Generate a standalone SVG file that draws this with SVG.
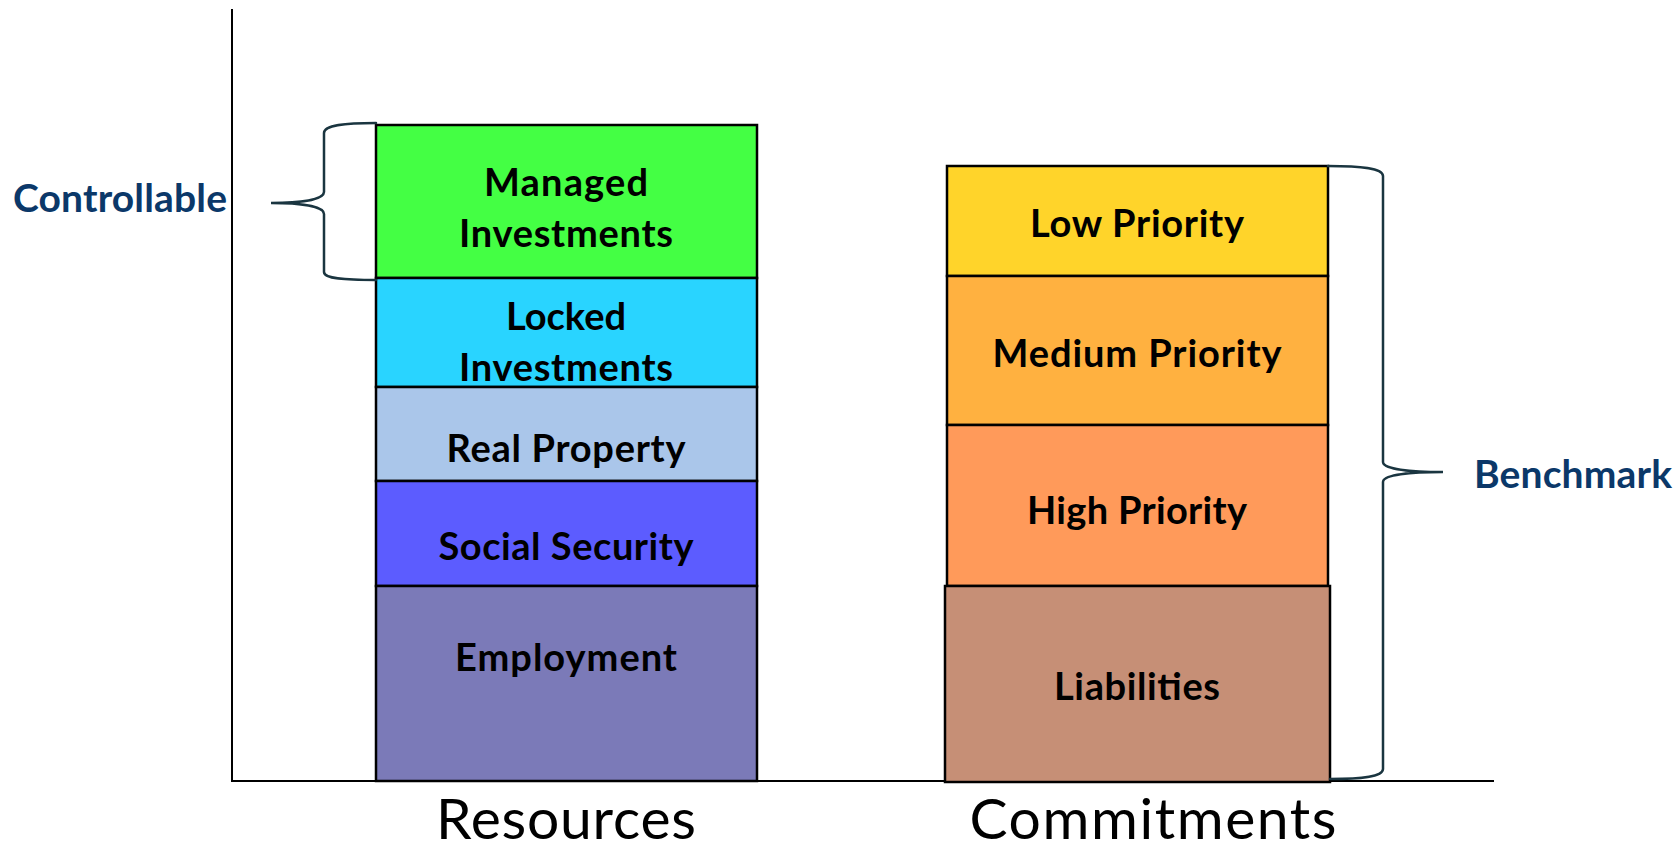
<svg xmlns="http://www.w3.org/2000/svg" width="1677" height="853" viewBox="0 0 1677 853">
  <style>
    .seg { stroke: #000; stroke-width: 2.5; }
    .lbl { font-family: Lato, "Liberation Sans", sans-serif; font-weight: bold; font-size: 38px; fill: #000; text-anchor: middle; }
    .side { font-family: Lato, "Liberation Sans", sans-serif; font-weight: bold; font-size: 39px; fill: #0B3869; }
    .axislbl { font-family: Lato, "Liberation Sans", sans-serif; font-size: 57px; fill: #000; text-anchor: middle; }
    .brace { fill: none; stroke: #1A3540; stroke-width: 2.5; stroke-linecap: round; }
    .axis { stroke: #000; stroke-width: 2; }
  </style>
  <rect width="1677" height="853" fill="#fff"/>

  <!-- axes -->
  <g id="axes">
    <line class="axis" x1="232" y1="9" x2="232" y2="782"/>
    <line class="axis" x1="232" y1="781" x2="1494" y2="781"/>
  </g>

  <!-- resources stack -->
  <g id="managed-investments">
    <rect class="seg" x="376" y="125" width="381" height="153" fill="#44FF44"/>
    <text class="lbl" x="566" y="196" textLength="164">Managed</text>
    <text class="lbl" x="566" y="247" textLength="214">Investments</text>
  </g>
  <g id="locked-investments">
    <rect class="seg" x="376" y="278" width="381" height="109" fill="#29D4FF"/>
    <text class="lbl" x="566" y="330" textLength="120">Locked</text>
    <text class="lbl" x="566" y="381" textLength="214">Investments</text>
  </g>
  <g id="real-property">
    <rect class="seg" x="376" y="387" width="381" height="94" fill="#AAC6EA"/>
    <text class="lbl" x="566" y="462" textLength="239">Real Property</text>
  </g>
  <g id="social-security">
    <rect class="seg" x="376" y="481" width="381" height="105" fill="#5C5CFF"/>
    <text class="lbl" x="566" y="560" textLength="255">Social Security</text>
  </g>
  <g id="employment">
    <rect class="seg" x="376" y="586" width="381" height="195" fill="#7B7AB8"/>
    <text class="lbl" x="566" y="671" textLength="222">Employment</text>
  </g>

  <!-- commitments stack -->
  <g id="low-priority">
    <rect class="seg" x="947" y="166" width="381" height="110" fill="#FFD42A"/>
    <text class="lbl" x="1137" y="237" textLength="214">Low Priority</text>
  </g>
  <g id="medium-priority">
    <rect class="seg" x="947" y="276" width="381" height="149" fill="#FFB140"/>
    <text class="lbl" x="1137" y="367" textLength="289">Medium Priority</text>
  </g>
  <g id="high-priority">
    <rect class="seg" x="947" y="425" width="381" height="161" fill="#FF9A5A"/>
    <text class="lbl" x="1137" y="524" textLength="220">High Priority</text>
  </g>
  <g id="liabilities">
    <rect class="seg" x="945" y="586" width="385" height="196" fill="#C68F76"/>
    <text class="lbl" x="1137" y="700" textLength="166">Liabilities</text>
  </g>

  <!-- braces -->
  <g id="connectors">
    <path class="brace" d="M376,123 C345,123 324,125 324,133 L324,192 C324,200 300,203 271,203 C300,203 324,206 324,214 L324,272 C324,279 345,280 376,280"/>
    <path class="brace" d="M1328,166 C1360,166 1383,168 1383,176 L1383,462 C1383,469 1410,472 1443,472 C1410,472 1383,475 1383,482 L1383,769 C1383,777 1360,779 1330,779"/>
  </g>

  <!-- side labels -->
  <g id="controllable">
    <text class="side" x="13" y="212" textLength="214">Controllable</text>
  </g>
  <g id="benchmark">
    <text class="side" x="1474" y="488" textLength="198">Benchmark</text>
  </g>

  <!-- axis labels -->
  <g id="resources">
    <text class="axislbl" x="566" y="839" textLength="260">Resources</text>
  </g>
  <g id="commitments">
    <text class="axislbl" x="1153" y="839" textLength="367">Commitments</text>
  </g>
</svg>
